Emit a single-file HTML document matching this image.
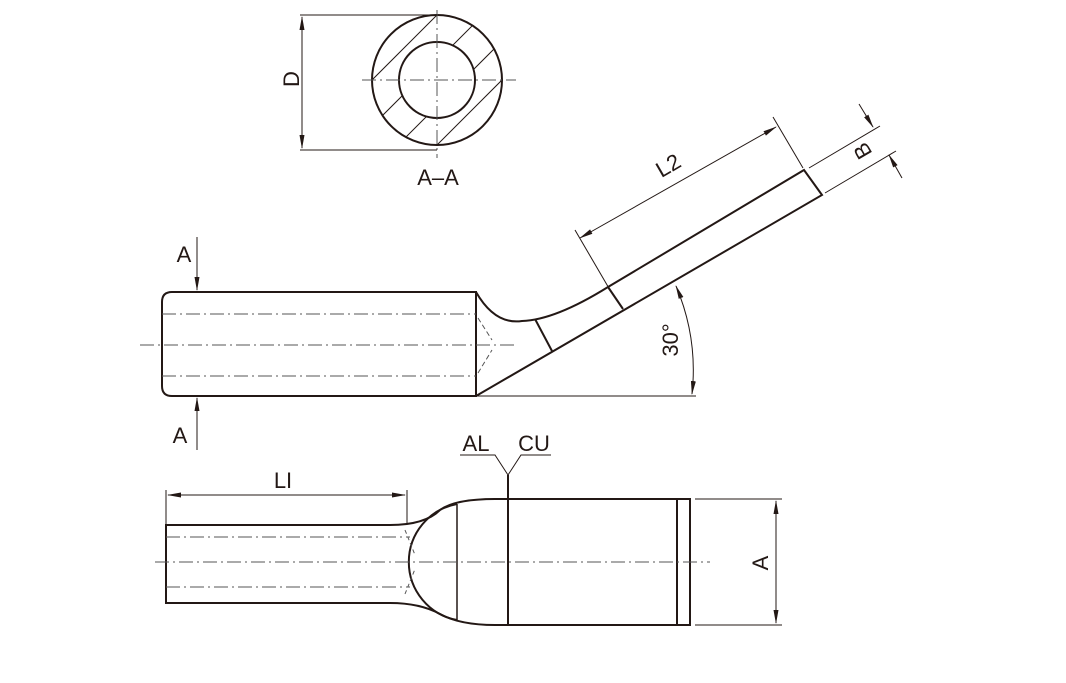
<!DOCTYPE html>
<html><head><style>body{margin:0;background:#fff}svg{display:block}text{font-family:"Liberation Sans",sans-serif;fill:#231815}</style></head><body>
<svg width="1066" height="683" viewBox="0 0 1066 683" xmlns="http://www.w3.org/2000/svg">
<defs>
<marker id="ar" markerWidth="14" markerHeight="6" refX="13" refY="3" orient="auto-start-reverse" markerUnits="userSpaceOnUse"><path d="M0,0.5 L14,3 L0,5.5z" fill="#231815"/></marker>
<clipPath id="ring"><path d="M372,80 a65,65 0 1,0 130,0 a65,65 0 1,0 -130,0 M399,80 a38,38 0 1,1 76,0 a38,38 0 1,1 -76,0z" clip-rule="evenodd"/></clipPath>
</defs>
<g stroke="#231815" fill="none">
<!-- section -->
<g clip-path="url(#ring)" stroke-width="1">
<line x1="300" y1="152" x2="460" y2="-8"/><line x1="346" y1="152" x2="506" y2="-8"/><line x1="391" y1="152" x2="551" y2="-8"/><line x1="430" y1="152" x2="590" y2="-8"/>
</g>
<circle cx="437" cy="80" r="65" stroke-width="2"/>
<circle cx="437" cy="80" r="38" stroke-width="2"/>
<g stroke="#555" stroke-width="1" stroke-dasharray="14,4,2,4">
<line x1="362" y1="80" x2="516" y2="80"/><line x1="437" y1="10" x2="437" y2="158"/>
</g>
<line x1="300" y1="15" x2="437" y2="15" stroke-width="1"/>
<line x1="300" y1="150" x2="437" y2="150" stroke-width="1"/>
<line x1="302" y1="17" x2="302" y2="148" stroke-width="1" marker-start="url(#ar)" marker-end="url(#ar)"/>

<!-- side view -->
<path d="M476,292 L172,292 Q162,292 162,302 L162,386 Q162,396 172,396 L476,396 Z" stroke-width="2"/>
<path d="M476,292 Q495,325 522,321 Q555,320 608,287 L804,170 L822,195 L476,396" stroke-width="2"/>
<line x1="535" y1="319" x2="552" y2="351" stroke-width="2"/>
<line x1="608" y1="287" x2="623" y2="309" stroke-width="2"/>
<g stroke="#555" stroke-width="1" stroke-dasharray="14,4,2,4">
<line x1="162" y1="314" x2="476" y2="314"/><line x1="140" y1="345" x2="515" y2="345"/><line x1="162" y1="376" x2="476" y2="376"/>
<line x1="478" y1="318" x2="492" y2="340" stroke-dasharray="5,3"/><line x1="478" y1="373" x2="492" y2="350" stroke-dasharray="5,3"/>
</g>
<line x1="476" y1="396" x2="696" y2="396" stroke-width="1"/>
<path d="M676,286 A216,216 0 0 1 692,394" stroke-width="1" marker-start="url(#ar)" marker-end="url(#ar)"/>
<line x1="197" y1="237" x2="197" y2="290" stroke-width="1" marker-end="url(#ar)"/>
<line x1="197" y1="450" x2="197" y2="398" stroke-width="1" marker-end="url(#ar)"/>
<line x1="575" y1="230" x2="610" y2="290" stroke-width="1"/>
<line x1="773" y1="117" x2="803" y2="168" stroke-width="1"/>
<line x1="580" y1="238" x2="776" y2="127" stroke-width="1" marker-start="url(#ar)" marker-end="url(#ar)"/>
<line x1="809" y1="168" x2="880" y2="126" stroke-width="1"/>
<line x1="825" y1="193" x2="896" y2="151" stroke-width="1"/>
<line x1="859" y1="104" x2="873" y2="127" stroke-width="1" marker-end="url(#ar)"/>
<line x1="902" y1="178" x2="889" y2="155" stroke-width="1" marker-end="url(#ar)"/>

<!-- bottom view -->
<path d="M390,525 L166,525 L166,603 L390,603 Q420,603 440,614 Q460,625 495,625 L690,625 L690,499 L495,499 Q455,499 440,510 Q425,525 390,525" stroke-width="2"/>
<path d="M457,504 A59,59 0 0 0 457,620" stroke-width="2"/>
<line x1="457" y1="504" x2="457" y2="621" stroke-width="1.5"/>
<line x1="508" y1="475" x2="508" y2="625" stroke-width="2"/>
<line x1="677" y1="499" x2="677" y2="625" stroke-width="2"/>
<g stroke="#555" stroke-width="1" stroke-dasharray="14,4,2,4">
<line x1="166" y1="537" x2="410" y2="537"/><line x1="155" y1="562" x2="710" y2="562"/><line x1="166" y1="587" x2="410" y2="587"/>
</g>
<line x1="405" y1="530" x2="415" y2="555" stroke="#555" stroke-dasharray="4,3"/>
<line x1="405" y1="594" x2="415" y2="569" stroke="#555" stroke-dasharray="4,3"/>
<path d="M460,455 L495,455 L508,475 L521,455 L551,455" stroke-width="1"/>
<line x1="166" y1="490" x2="166" y2="524" stroke-width="1"/>
<line x1="407" y1="490" x2="407" y2="524" stroke-width="1"/>
<line x1="168" y1="495" x2="405" y2="495" stroke-width="1" marker-start="url(#ar)" marker-end="url(#ar)"/>
<line x1="695" y1="499" x2="782" y2="499" stroke-width="1"/>
<line x1="695" y1="625" x2="782" y2="625" stroke-width="1"/>
<line x1="776" y1="501" x2="776" y2="623" stroke-width="1" marker-start="url(#ar)" marker-end="url(#ar)"/>
</g>
<g font-size="22">
<text x="293" y="79" text-anchor="middle" transform="rotate(-90 293 79)" dominant-baseline="middle">D</text>
<text x="438" y="185" text-anchor="middle">A–A</text>
<text x="184" y="262" text-anchor="middle">A</text>
<text x="180" y="443" text-anchor="middle">A</text>
<text x="672" y="340" text-anchor="middle" transform="rotate(-90 672 340)" dominant-baseline="middle">30°</text>
<text x="672" y="172" text-anchor="middle" transform="rotate(-30 672 172)">L2</text>
<text x="864" y="150" text-anchor="middle" transform="rotate(-120 864 150)" dominant-baseline="middle">B</text>
<text x="476" y="451" text-anchor="middle">AL</text>
<text x="534" y="451" text-anchor="middle">CU</text>
<text x="283" y="488" text-anchor="middle">LI</text>
<text x="762" y="563" text-anchor="middle" transform="rotate(-90 762 563)" dominant-baseline="middle">A</text>
</g>
</svg>
</body></html>
